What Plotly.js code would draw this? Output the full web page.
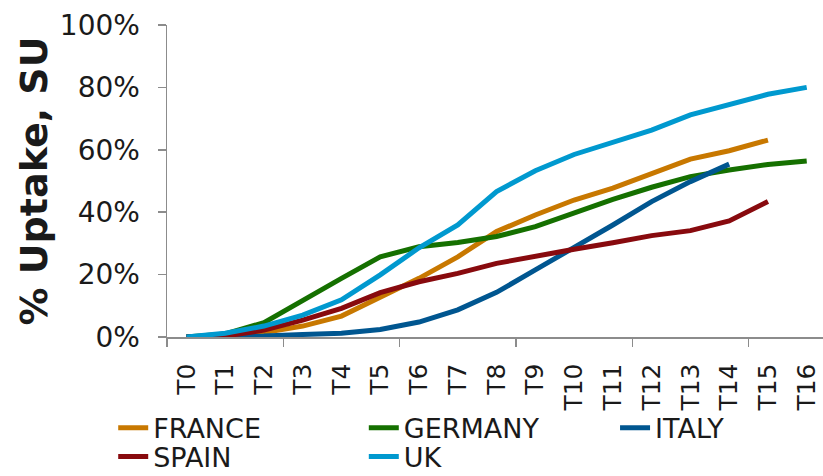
<!DOCTYPE html>
<html>
<head>
<meta charset="utf-8">
<script src="https://cdn.plot.ly/plotly-3.0.1.min.js"></script>
<style>html,body{margin:0;padding:0;background:#fff;}#chart{width:823px;height:476px;}</style>
</head>
<body>
<div id="chart"></div>
<script>
const categories = ["T0","T1","T2","T3","T4","T5","T6","T7","T8","T9","T10","T11","T12","T13","T14","T15","T16"];
const france  = [0, 0.2, 1.4, 3.5, 6.7, 12.9, 18.8, 25.7, 33.8, 39.1, 43.9, 47.7, 52.5, 57.0, 59.7, 63.1];
const germany = [0, 1.0, 4.6, 11.9, 18.8, 25.7, 28.9, 30.3, 32.2, 35.4, 39.8, 44.1, 48.0, 51.4, 53.5, 55.3, 56.4];
const italy   = [0, 0, 0.3, 0.8, 1.2, 2.4, 4.8, 8.7, 14.3, 21.5, 28.5, 35.9, 43.4, 49.8, 55.4];
const spain   = [0, 0.3, 2.2, 5.4, 9.2, 14.2, 17.7, 20.4, 23.6, 26.0, 28.1, 30.2, 32.5, 34.1, 37.2, 43.4];
const uk      = [0, 1.2, 3.5, 7.0, 11.9, 19.9, 28.6, 35.9, 46.6, 53.3, 58.5, 62.6, 66.3, 71.2, 74.4, 77.8, 80.0];
const seriesNames = ["FRANCE","GERMANY","ITALY","SPAIN","UK"];
const yTicks = [0, 20, 40, 60, 80, 100];
const yTickLabels = ["0%", "20%", "40%", "60%", "80%", "100%"];
const majorTickPositions = [-0.5, 2.5, 5.5, 8.5, 11.5, 14.5];

const colors = ["#C87800", "#157000", "#005690", "#880A0E", "#0099CF"];
const allSeries = [france, germany, italy, spain, uk];
const legendIds = ["legend", "legend2", "legend3", "legend4", "legend5"];

const traces = allSeries.map((vals, k) => ({
  type: "scatter",
  mode: "lines",
  name: seriesNames[k],
  legend: legendIds[k],
  x: vals.map((v, i) => i),
  y: vals,
  line: {color: colors[k], width: 5},
  hoverinfo: "skip"
}));

const font = {family: "DejaVu Sans, Verdana, sans-serif", color: "#1a1a1a"};
const axisGray = "#8c8c8c";

// legend placement (paper coordinates): 3 columns, 2 rows
const colX = [-0.082, 0.300, 0.683];
const rowY = [-0.214, -0.306];
const legendPos = [[0,0],[1,0],[2,0],[0,1],[1,1]];

const layout = {
  width: 823, height: 476,
  margin: {l: 167, r: 0, t: 25, b: 139, autoexpand: false},
  paper_bgcolor: "#fff", plot_bgcolor: "#fff",
  font: Object.assign({size: 28}, font),
  showlegend: true,
  xaxis: {
    type: "linear",
    range: [-0.5, 16.42],
    tickmode: "array",
    tickvals: categories.map((c, i) => i),
    ticktext: categories,
    tickangle: -90,
    ticks: "outside", ticklen: 15, tickcolor: "rgba(0,0,0,0)",
    tickfont: Object.assign({size: 25}, font),
    showgrid: false, zeroline: false,
    showline: true, linecolor: axisGray, linewidth: 1.5,
    minor: {tickmode: "array", tickvals: majorTickPositions, ticks: "outside", ticklen: 8, tickcolor: axisGray, tickwidth: 1.5, showgrid: false},
    automargin: false,
    fixedrange: true
  },
  yaxis: {
    range: [0, 100],
    tickmode: "array",
    tickvals: yTicks,
    ticktext: yTickLabels,
    ticks: "outside", ticklen: 8, tickcolor: axisGray, tickwidth: 1.5,
    tickfont: Object.assign({size: 28}, font),
    ticklabelstandoff: 12,
    showgrid: false, zeroline: false,
    showline: true, linecolor: axisGray, linewidth: 1.5,
    title: {text: "<b>% Uptake, SU</b>", font: Object.assign({size: 38}, font), standoff: 0},
    automargin: false,
    fixedrange: true
  }
};

legendIds.forEach((id, k) => {
  const p = legendPos[k];
  layout[id] = {
    orientation: "v",
    x: colX[p[0]], xanchor: "left",
    y: rowY[p[1]], yanchor: "top",
    font: Object.assign({size: 27}, font),
    bgcolor: "rgba(0,0,0,0)",
    borderwidth: 0
  };
});

Plotly.newPlot("chart", traces, layout, {staticPlot: true, displayModeBar: false});
</script>
</body>
</html>
